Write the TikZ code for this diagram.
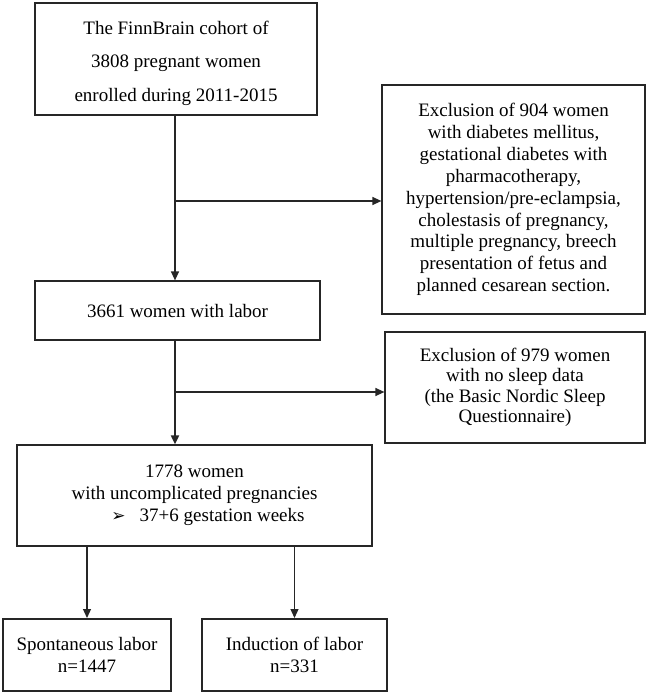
\documentclass[tikz,border=0pt]{standalone}
\usepackage{fontspec}
\setmainfont{Liberation Serif}
\newfontfamily\symfont{DejaVu Sans}
\usetikzlibrary{arrows.meta}
\begin{document}
\begin{tikzpicture}[x=1pt,y=-1pt,
  box/.style={draw=black!85, line width=1.2pt, inner sep=0pt, align=center, font=\fontsize{19}{22}\selectfont},
  thickbox/.style={box, line width=2pt},
  conn/.style={draw=black!85, line width=1.2pt},
  arr/.style={conn, -{Triangle[length=9pt,width=8pt]}}]
\useasboundingbox (0,0) rectangle (646,693);
\node[thickbox, minimum width=282pt, minimum height=112pt, font=\fontsize{19}{33.5}\selectfont] (b1) at (176,59)
  {\rule{0pt}{22pt}The FinnBrain cohort of\\3808 pregnant women\\enrolled during 2011-2015};
\node[box, minimum width=263pt, minimum height=229pt, font=\fontsize{19}{21.9}\selectfont] (b3) at (513.5,199.5)
  {Exclusion of 904 women\\with diabetes mellitus,\\gestational diabetes with\\pharmacotherapy,\\hypertension/pre-eclampsia,\\cholestasis of pregnancy,\\multiple pregnancy, breech\\presentation of fetus and\\planned cesarean section.};
\node[box, minimum width=285pt, minimum height=59pt] (b2) at (177.5,310.5) {3661 women with labor};
\node[box, minimum width=260pt, minimum height=111pt, font=\fontsize{19}{20.5}\selectfont] (b4) at (515,387.5)
  {Exclusion of 979 women\\with no sleep data\\(the Basic Nordic Sleep\\Questionnaire)};
\node[box, minimum width=355pt, minimum height=101pt] (b5) at (194.5,495.5)
  {1778 women\\with uncomplicated pregnancies\\\hspace*{27pt}{\symfont\fontsize{17}{22}\selectfont ➢}\hspace{14pt}37+6 gestation weeks};
\node[thickbox, minimum width=168pt, minimum height=72pt] (b6) at (87,655) {Spontaneous labor\\n=1447};
\node[thickbox, minimum width=185pt, minimum height=72pt] (b7) at (294.5,655) {Induction of labor\\n=331};
\coordinate (j1) at (175,201);
\coordinate (j2) at (175,392);
\draw[arr] (b1.south -| j1) -- (b2.north -| j1);
\draw[arr] (j1) -- (j1 -| b3.west);
\draw[arr, line width=1.8pt] (b2.south -| j2) -- (b5.north -| j2);
\draw[arr] (j2) -- (j2 -| b4.west);
\draw[arr] (b5.south -| b6.north) -- (b6.north);
\draw[arr] (b5.south -| b7.north) -- (b7.north);
\end{tikzpicture}
\end{document}
